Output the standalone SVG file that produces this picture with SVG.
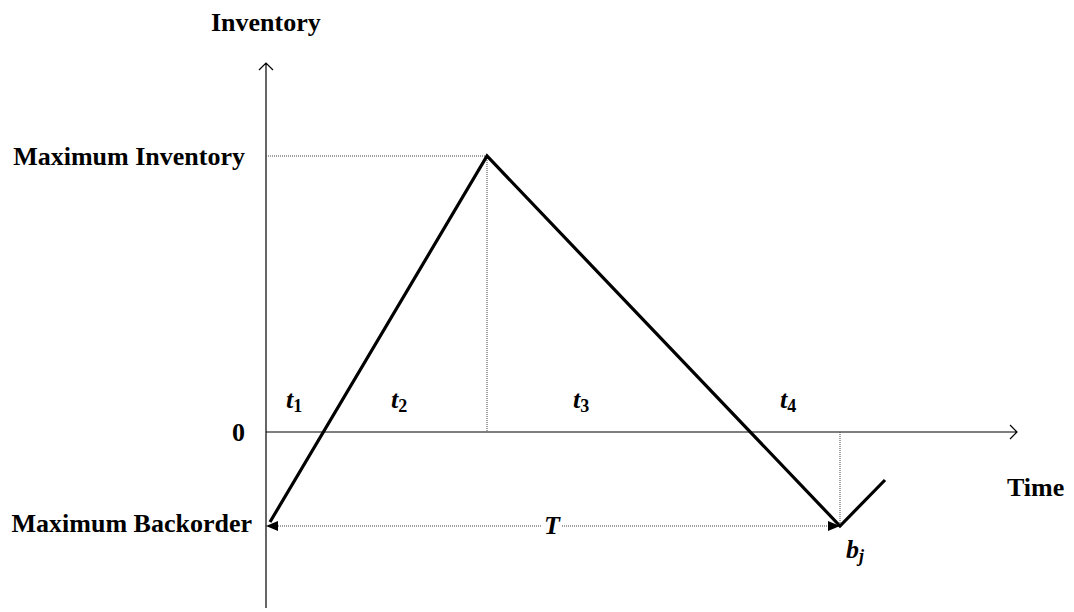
<svg xmlns="http://www.w3.org/2000/svg" width="1074" height="612" viewBox="0 0 1074 612">
<style>
text{font-family:"Liberation Serif","Times New Roman",serif;font-weight:bold;font-size:26px;fill:#000}
.it{font-style:italic}
.sub{font-size:18px;font-style:normal}
.subi{font-size:18px;font-style:italic}
.axis{stroke:#000;stroke-width:1.2;fill:none}
.thick{stroke:#000;stroke-width:3.2;fill:none;stroke-linecap:butt}
.dot{stroke:#444;stroke-width:1;stroke-dasharray:1 1;fill:none}
</style>
<defs>
<marker id="fa" viewBox="0 0 12 10" refX="12" refY="5" markerWidth="12" markerHeight="10" markerUnits="userSpaceOnUse" orient="auto">
<path d="M0,0 L12,5 L0,10 Z" fill="#000"/>
</marker>
<marker id="fs" viewBox="0 0 12 10" refX="0" refY="5" markerWidth="12" markerHeight="10" markerUnits="userSpaceOnUse" orient="auto">
<path d="M12,0 L0,5 L12,10 Z" fill="#000"/>
</marker>
</defs>
<g id="axes">
<path class="axis" d="M266,608 V63 M259,70 L266,63 L273,70"/>
<path class="axis" d="M266,432 H1017 M1010,425 L1017,432 L1010,439"/>
</g>
<g id="connectors">
<path class="dot" d="M266,156 H487"/>
<path class="dot" d="M487,156 V432"/>
<path class="dot" d="M840,432 V526"/>
<path class="dot" d="M266,526 H541" marker-start="url(#fs)"/>
<path class="dot" d="M562,526 H840" marker-end="url(#fa)"/>
<path class="thick" d="M270,522 L487,156 L840,526 L885,480"/>
</g>
<g id="labels">
<text x="211" y="31">Inventory</text>
<text x="245" y="165" text-anchor="end">Maximum Inventory</text>
<text x="232" y="441">0</text>
<text x="252" y="532" text-anchor="end">Maximum Backorder</text>
<text x="1007" y="496">Time</text>
<text x="544" y="534" class="it">T</text>
<text x="286" y="408" class="it">t<tspan class="sub" dy="4">1</tspan></text>
<text x="391" y="408" class="it">t<tspan class="sub" dy="4">2</tspan></text>
<text x="573" y="408" class="it">t<tspan class="sub" dy="4">3</tspan></text>
<text x="780" y="408" class="it">t<tspan class="sub" dy="4">4</tspan></text>
<text x="846" y="558" class="it">b<tspan class="subi" dy="4">j</tspan></text>
</g>
</svg>
